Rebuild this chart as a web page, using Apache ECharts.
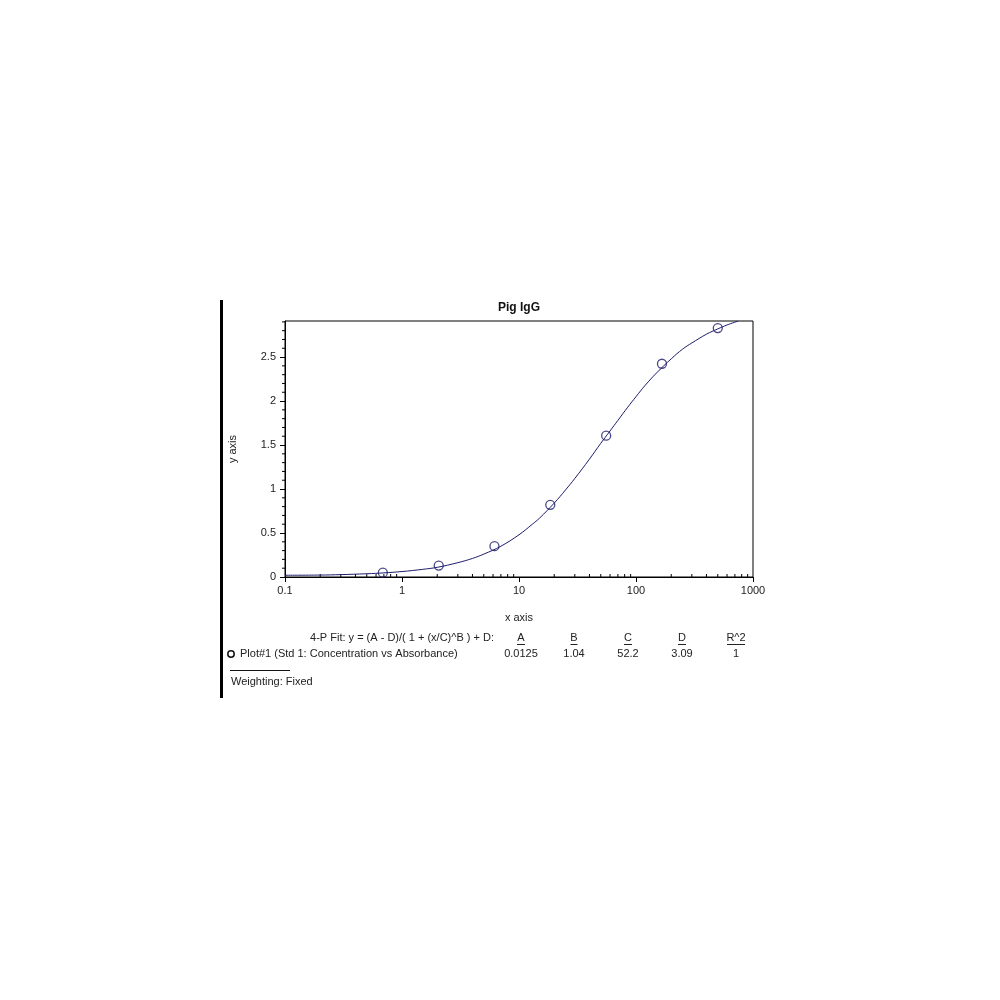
<!DOCTYPE html>
<html>
<head>
<meta charset="utf-8">
<script src="https://cdn.jsdelivr.net/npm/echarts@6/dist/echarts.min.js"></script>
<style>
  html, body { margin: 0; padding: 0; background: #fff; }
  #chart { width: 1000px; height: 1000px; }
</style>
</head>
<body>
<div id="chart"></div>
<script>
// standards (3-fold dilution) and measured absorbance
var standardConc = [0.686, 2.06, 6.17, 18.5, 55.6, 166.7, 500];
var absorbance = [0.049, 0.13, 0.35, 0.82, 1.606, 2.424, 2.83];

// fitted curve
var curveX = [0.1, 0.2, 0.3, 0.5, 0.7, 1, 1.5, 2, 3, 4, 5, 7, 10, 13, 15, 20, 25, 30, 40, 50, 60, 70, 85, 100, 120, 150, 200, 250, 300, 400, 500, 600, 750];
var curveY = [0.02, 0.022, 0.027, 0.037, 0.047, 0.062, 0.087, 0.11, 0.163, 0.211, 0.26, 0.35, 0.48, 0.6, 0.67, 0.84, 0.99, 1.12, 1.34, 1.52, 1.66, 1.78, 1.93, 2.05, 2.18, 2.32, 2.48, 2.59, 2.66, 2.76, 2.82, 2.865, 2.91];

// axis ticks
var yTickValues = [0, 0.5, 1, 1.5, 2, 2.5];
var xMinorTicks = [0.2, 0.3, 0.4, 0.5, 0.6, 0.7, 0.8, 0.9,
                   2, 3, 4, 5, 6, 7, 8, 9,
                   20, 30, 40, 50, 60, 70, 80, 90,
                   200, 300, 400, 500, 600, 700, 800, 900];
var yMinorTicks = [0.1, 0.2, 0.3, 0.4, 0.6, 0.7, 0.8, 0.9, 1.1, 1.2, 1.3, 1.4,
                   1.6, 1.7, 1.8, 1.9, 2.1, 2.2, 2.3, 2.4, 2.6, 2.7, 2.8, 2.9];

// fit table
var fitEquation = '4-P Fit: y = (A - D)/( 1 + (x/C)^B ) + D:';
var plotName = 'Plot#1 (Std 1: Concentration vs Absorbance)';
var fitHeaders = ['A', 'B', 'C', 'D', 'R^2'];
var fitValues = ['0.0125', '1.04', '52.2', '3.09', '1'];

var FONT = '"Liberation Sans", Arial, sans-serif';
var NAVY = '#1c1c6b';
var colX = [521, 574, 628, 682, 736];
var underlineW = [8, 7, 8, 8, 18];

var myChart = echarts.init(document.getElementById('chart'));

var graphics = [
    { type: 'rect', shape: { x: 220, y: 300, width: 3, height: 398 }, style: { fill: '#000' } },
    { type: 'text', x: 519, y: 308, style: { text: 'Pig IgG', font: 'bold 12px ' + FONT, fill: '#111', align: 'center', verticalAlign: 'middle' } },
    { type: 'text', x: 494, y: 638, style: { text: fitEquation, font: '11px ' + FONT, fill: '#222', align: 'right', verticalAlign: 'middle' } },
    { type: 'circle', shape: { cx: 231, cy: 654, r: 3.2 }, style: { fill: 'none', stroke: '#111', lineWidth: 1.5 } },
    { type: 'text', x: 240, y: 654, style: { text: plotName, font: '11px ' + FONT, fill: '#222', align: 'left', verticalAlign: 'middle' } },
    { type: 'line', shape: { x1: 230, y1: 670.5, x2: 290, y2: 670.5 }, style: { stroke: '#111', lineWidth: 1 } },
    { type: 'text', x: 231, y: 682, style: { text: 'Weighting: Fixed', font: '11px ' + FONT, fill: '#222', align: 'left', verticalAlign: 'middle' } }
];
fitHeaders.forEach(function (h, i) {
    graphics.push({ type: 'text', x: colX[i], y: 638, style: { text: h, font: '11px ' + FONT, fill: '#222', align: 'center', verticalAlign: 'middle' } });
    graphics.push({ type: 'line', shape: { x1: colX[i] - underlineW[i] / 2, y1: 644.5, x2: colX[i] + underlineW[i] / 2, y2: 644.5 }, style: { stroke: '#222', lineWidth: 1 } });
    graphics.push({ type: 'text', x: colX[i], y: 654, style: { text: fitValues[i], font: '11px ' + FONT, fill: '#222', align: 'center', verticalAlign: 'middle' } });
});

option = {
    animation: false,
    backgroundColor: '#fff',
    grid: {
        left: 285,
        right: 247,
        top: 321,
        bottom: 423,
        show: true,
        borderColor: '#000',
        borderWidth: 1
    },
    xAxis: {
        type: 'log',
        logBase: 10,
        min: 0.1,
        max: 1000,
        name: 'x axis',
        nameLocation: 'middle',
        nameGap: 35,
        nameTextStyle: { fontFamily: FONT, fontSize: 11, color: '#222' },
        axisLine: { onZero: false, lineStyle: { color: '#000', width: 1 } },
        axisTick: { show: true, length: 5, lineStyle: { color: '#000' } },
        axisLabel: {
            margin: 8,
            fontFamily: FONT,
            fontSize: 11,
            color: '#222',
            formatter: function (v) { return String(v); }
        },
        splitLine: { show: false }
    },
    yAxis: {
        type: 'value',
        min: 0,
        max: 2.91,
        interval: 0.5,
        name: 'y axis',
        nameLocation: 'middle',
        nameGap: 47,
        nameRotate: 90,
        nameTextStyle: { fontFamily: FONT, fontSize: 11, color: '#222' },
        axisLine: { show: true, lineStyle: { color: '#000', width: 1 } },
        axisTick: { show: true, length: 5, customValues: yTickValues, lineStyle: { color: '#000' } },
        axisLabel: {
            margin: 9,
            fontFamily: FONT,
            fontSize: 11,
            color: '#222',
            customValues: yTickValues
        },
        splitLine: { show: false }
    },
    graphic: graphics,
    series: [
        {
            name: 'fit',
            type: 'line',
            data: curveX.map(function (x, i) { return [x, curveY[i]]; }),
            smooth: 0.4,
            showSymbol: false,
            clip: true,
            lineStyle: { color: NAVY, width: 1 },
            z: 2
        },
        {
            name: 'Plot#1',
            type: 'scatter',
            data: standardConc.map(function (x, i) { return [x, absorbance[i]]; }),
            symbol: 'circle',
            symbolSize: 9,
            itemStyle: { color: 'rgba(255,255,255,0)', borderColor: NAVY, borderWidth: 1.3 },
            z: 3
        },
        {
            name: 'xMinor',
            type: 'custom',
            data: xMinorTicks.map(function (v) { return [v, 0]; }),
            encode: { x: 0, y: 1 },
            clip: false,
            silent: true,
            renderItem: function (params, api) {
                var p = api.coord([api.value(0), 0]);
                return { type: 'line', shape: { x1: p[0], y1: p[1], x2: p[0], y2: p[1] - 3 }, style: { stroke: '#000', lineWidth: 1 } };
            }
        },
        {
            name: 'yMinor',
            type: 'custom',
            data: yMinorTicks.map(function (v) { return [0.1, v]; }),
            encode: { x: 0, y: 1 },
            clip: false,
            silent: true,
            renderItem: function (params, api) {
                var p = api.coord([0.1, api.value(1)]);
                return { type: 'line', shape: { x1: p[0], y1: p[1], x2: p[0] - 3, y2: p[1] }, style: { stroke: '#000', lineWidth: 1 } };
            }
        }
    ]
};
myChart.setOption(option);
</script>
</body>
</html>
